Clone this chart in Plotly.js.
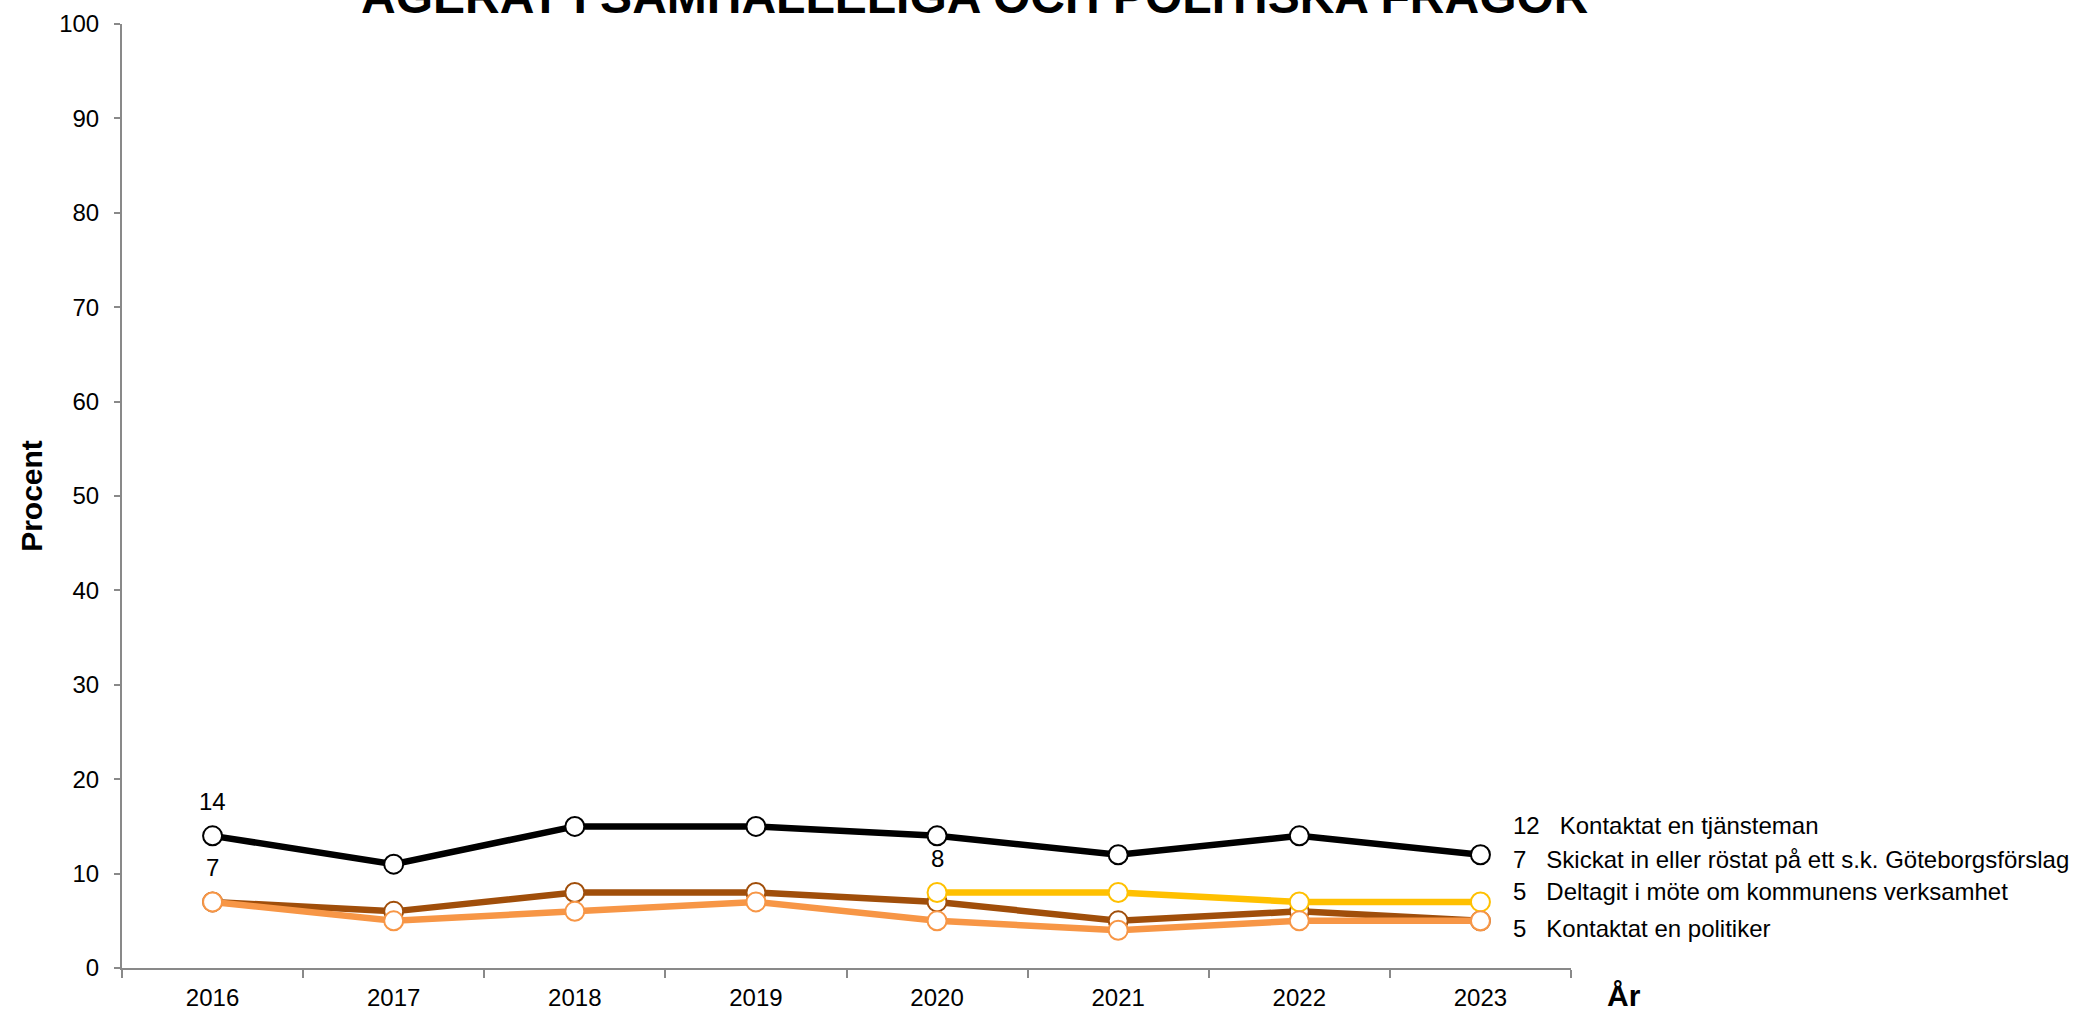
<!DOCTYPE html>
<html>
<head>
<meta charset="utf-8">
<script src="https://cdn.plot.ly/plotly-3.0.1.min.js"></script>
<style>html,body{margin:0;padding:0;background:#fff;}#chart{width:2077px;height:1011px;}</style>
</head>
<body>
<div id="chart"></div>
<script>
// ---- data ----
const years = ['2016', '2017', '2018', '2019', '2020', '2021', '2022', '2023'];
const tjansteman = [14, 11, 15, 15, 14, 12, 14, 12];
const motet = [7, 6, 8, 8, 7, 5, 6, 5];
const goteborgsforslag = [null, null, null, null, 8, 8, 7, 7];
const politiker = [7, 5, 6, 7, 5, 4, 5, 5];
const seriesNames = [
  'Kontaktat en tjänsteman',
  'Skickat in eller röstat på ett s.k. Göteborgsförslag',
  'Deltagit i möte om kommunens verksamhet',
  'Kontaktat en politiker'
];
const titleText = 'AGERAT I SAMHÄLLELIGA OCH POLITISKA FRÅGOR';
const yTitle = 'Procent';
const xTitle = 'År';
const yTicks = [0, 10, 20, 30, 40, 50, 60, 70, 80, 90, 100];

// ---- style ----
const FONT = 'Liberation Sans, Arial, sans-serif';
const colors = {tj: '#000000', gf: '#FFC000', mo: '#A04E0A', po: '#F79646'};
const AX = '#898989';
const L = 122, R = 1571, T = 24, B = 968;
const W = R - L, H = B - T;
const px = x => (x - L) / W;
const py = y => (B - y) / H;

function trace(name, y, color) {
  return {
    type: 'scatter', mode: 'lines+markers', name: name, x: years, y: y,
    line: {color: color, width: 6.5},
    marker: {symbol: 'circle', size: 19, color: '#ffffff', line: {color: color, width: 2}},
    connectgaps: false, showlegend: false, cliponaxis: false, hoverinfo: 'x+y+name'
  };
}

const data = [
  trace(seriesNames[0], tjansteman, colors.tj),
  trace(seriesNames[2], motet, colors.mo),
  trace(seriesNames[1], goteborgsforslag, colors.gf),
  trace(seriesNames[3], politiker, colors.po)
];

function firstIdx(arr) { return arr.findIndex(v => v !== null); }
function lastVal(arr) { for (let i = arr.length - 1; i >= 0; i--) if (arr[i] !== null) return arr[i]; }

const annotations = [];
// title
annotations.push({text: '<b>' + titleText + '</b>', xref: 'paper', yref: 'paper', x: px(975), y: py(-3),
  xanchor: 'center', yanchor: 'middle', showarrow: false, font: {family: FONT, size: 48, color: '#000'}});
// x title
annotations.push({text: '<b>' + xTitle + '</b>', xref: 'paper', yref: 'paper', x: px(1624), y: py(995),
  xanchor: 'center', yanchor: 'middle', showarrow: false, font: {family: FONT, size: 30, color: '#000'}});
// data labels on first points of series
[tjansteman, politiker, goteborgsforslag].forEach(function (arr) {
  const i = firstIdx(arr);
  annotations.push({text: String(arr[i]), xref: 'x', yref: 'y', x: i, y: arr[i], yshift: 34,
    xanchor: 'center', yanchor: 'middle', showarrow: false, font: {family: FONT, size: 24, color: '#000'}});
});
// right-side end labels
const gap = '\u00a0\u00a0\u00a0';
const endLabels = [
  [tjansteman, seriesNames[0], 825],
  [goteborgsforslag, seriesNames[1], 859],
  [motet, seriesNames[2], 891],
  [politiker, seriesNames[3], 928]
];
endLabels.forEach(function (e) {
  annotations.push({text: lastVal(e[0]) + gap + e[1], xref: 'paper', yref: 'paper', x: px(1511), y: py(e[2]),
    xanchor: 'left', yanchor: 'middle', showarrow: false, font: {family: FONT, size: 24, color: '#000'}});
});

const layout = {
  width: 2077, height: 1011,
  margin: {l: L, r: 2077 - R, t: T, b: 1011 - B, pad: 0},
  paper_bgcolor: '#ffffff', plot_bgcolor: '#ffffff',
  font: {family: FONT, size: 24, color: '#000'},
  showlegend: false,
  xaxis: {
    type: 'category', range: [-0.5, 7.5], fixedrange: true,
    showgrid: false, zeroline: false,
    showline: true, linecolor: AX, linewidth: 2,
    ticks: 'outside', tickson: 'boundaries', ticklen: 8, tickwidth: 2, tickcolor: AX,
    ticklabelstandoff: 7,
    tickfont: {family: FONT, size: 24, color: '#000'}
  },
  yaxis: {
    range: [0, 100], tickvals: yTicks, ticktext: yTicks.map(String), fixedrange: true,
    showgrid: false, zeroline: false,
    showline: true, linecolor: AX, linewidth: 2,
    ticks: 'outside', ticklen: 6, tickwidth: 2, tickcolor: AX,
    ticklabelstandoff: 10,
    tickfont: {family: FONT, size: 24, color: '#000'},
    title: {text: '<b>' + yTitle + '</b>', standoff: 8, font: {family: FONT, size: 30, color: '#000'}},
    automargin: false
  },
  annotations: annotations
};

Plotly.newPlot('chart', data, layout, {displayModeBar: false, staticPlot: true});
</script>
</body>
</html>
